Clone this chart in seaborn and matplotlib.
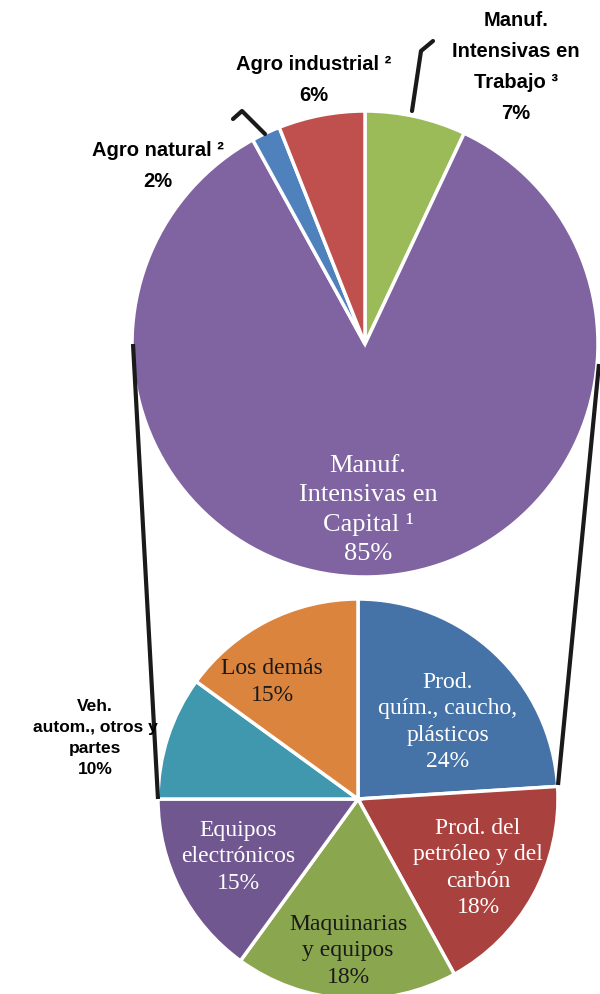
import matplotlib
matplotlib.use("Agg")
import matplotlib.pyplot as plt
import seaborn as sns

# ---- data ----
top_labels = ["Manuf.\nIntensivas en\nTrabajo ³", "Manuf.\nIntensivas en\nCapital ¹", "Agro natural ²", "Agro industrial ²"]
top_values = [7, 85, 2, 6]
top_colors = ["#9BBB59", "#8064A2", "#4F81BD", "#C0504D"]

bot_labels = ["Prod.\nquím., caucho,\nplásticos", "Prod. del\npetróleo y del\ncarbón",
              "Maquinarias\ny equipos", "Equipos\nelectrónicos",
              "Veh.\nautom., otros y\npartes", "Los demás"]
bot_values = [24, 18, 18, 15, 10, 15]
bot_colors = ["#4673A7", "#A9413F", "#8AA64E", "#71578F", "#3F98AE", "#DB843D"]

sns.set_theme(style="white")
plt.rcParams["font.family"] = ["Liberation Serif", "DejaVu Serif"]

W, H = 600, 995
fig = plt.figure(figsize=(W / 100, H / 100), dpi=100)
ax = fig.add_axes([0, 0, 1, 1])

def Y(py):
    return H - py

# top pie
top_c = (365, Y(345)); top_r = 233
ax.pie(top_values, colors=sns.color_palette(top_colors), startangle=90, counterclock=False,
       center=top_c, radius=top_r, frame=True,
       wedgeprops=dict(edgecolor="white", linewidth=2.5))
# bottom pie
bot_c = (358, Y(800)); bot_r = 200
ax.pie(bot_values, colors=sns.color_palette(bot_colors), startangle=90, counterclock=False,
       center=bot_c, radius=bot_r, frame=True,
       wedgeprops=dict(edgecolor="white", linewidth=2.5))
ax.set_xlim(0, W)
ax.set_ylim(0, H)
ax.set_aspect("equal")
ax.axis("off")

# connectors
ax.plot([133, 158], [Y(345), Y(800)], color="#1a1a1a", lw=3, solid_capstyle="butt", zorder=5)
ax.plot([599, 558], [Y(365), Y(786)], color="#1a1a1a", lw=3, solid_capstyle="butt", zorder=5)
# leader lines
ax.plot([265, 242, 233], [Y(135), Y(112), Y(120)], color="#1a1a1a", lw=3, zorder=5)
ax.plot([412, 421, 433], [Y(112), Y(52), Y(42)], color="#1a1a1a", lw=3, zorder=5)

# top labels
big = dict(ha="center", va="center", fontsize=19, linespacing=1.42, color="white")
ax.text(368, Y(510), f"{top_labels[1]}\n{top_values[1]}%", **big, zorder=6)
out = dict(ha="center", va="center", fontsize=14.5, fontweight="bold", linespacing=1.8,
           color="black", zorder=6, family=["Liberation Sans", "DejaVu Sans"])
ax.text(516, Y(67), f"{top_labels[0]}\n{top_values[0]}%", **out)
ax.text(314, Y(80), f"{top_labels[3]}\n{top_values[3]}%", **out)
ax.text(158, Y(166), f"{top_labels[2]}\n{top_values[2]}%", **out)

# bottom labels
inner = dict(ha="center", va="center", fontsize=17, linespacing=1.33, zorder=6)
ax.text(448, Y(722), f"{bot_labels[0]}\n{bot_values[0]}%", color="white", **inner)
ax.text(478, Y(868), f"{bot_labels[1]}\n{bot_values[1]}%", color="white", **inner)
ax.text(348, Y(951), f"{bot_labels[2]}\n{bot_values[2]}%", color="#1a1a1a", **inner)
ax.text(238, Y(857), f"{bot_labels[3]}\n{bot_values[3]}%", color="white", **inner)
ax.text(272, Y(682), f"{bot_labels[5]}\n{bot_values[5]}%", color="#1a1a1a", **inner)
ax.text(95, Y(738), f"{bot_labels[4]}\n{bot_values[4]}%", ha="center", va="center",
        fontsize=12.5, fontweight="bold", linespacing=1.5, color="black", zorder=6,
        family=["Liberation Sans", "DejaVu Sans"])

fig.savefig("out.png", dpi=100, facecolor="white")
